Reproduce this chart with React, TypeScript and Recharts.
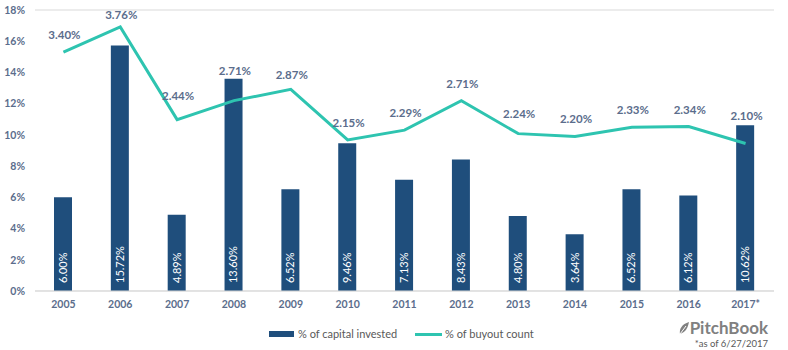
import React from 'react';
import { ComposedChart, Bar, Line, XAxis, YAxis, CartesianGrid, LabelList } from 'recharts';

const years = ['2005', '2006', '2007', '2008', '2009', '2010', '2011', '2012', '2013', '2014', '2015', '2016', '2017*'];
const capitalInvested = [6.0, 15.72, 4.89, 13.6, 6.52, 9.46, 7.13, 8.43, 4.8, 3.64, 6.52, 6.12, 10.62];
const buyoutCount = [3.4, 3.76, 2.44, 2.71, 2.87, 2.15, 2.29, 2.71, 2.24, 2.2, 2.33, 2.34, 2.1];
const leftTicks = [0, 2, 4, 6, 8, 10, 12, 14, 16, 18];

// extra vertical nudge for line labels (as placed in the original)
const labelNudge = [0, 5, -7, -13, 3, 0, 0, 0, -3, 0, 0, 0, -10];

const data = years.map((y, i) => ({ year: y, capital: capitalInvested[i], buyout: buyoutCount[i] }));

const FONT = 'Lato, "Open Sans", sans-serif';
const TEXT = '#5b6d8c';
const BAR = '#1f4e7c';
const LINE = '#2ec4b0';

const BarLabel = (props: any) => {
  const { x, y, width, height, value } = props;
  const cx = x + width / 2;
  const by = y + height - 8;
  return (
    <text
      x={cx}
      y={by}
      transform={`rotate(-90 ${cx} ${by})`}
      textAnchor="start"
      dy="0.36em"
      fill="#ffffff"
      fontSize={11}
      fontFamily={FONT}
    >
      {Number(value).toFixed(2)}%
    </text>
  );
};

const LineLabel = (props: any) => {
  const { x, y, value, index } = props;
  const ny = y - 13 + (labelNudge[index] || 0);
  return (
    <text x={x + 1} y={ny} textAnchor="middle" fill={TEXT} fontSize={11.5} fontWeight="bold" fontFamily={FONT}>
      {Number(value).toFixed(2)}%
    </text>
  );
};

export default function App() {
  return (
    <div style={{ position: 'absolute', left: 0, top: 0, width: 788, height: 350, background: '#fff', fontFamily: FONT }}>
      <ComposedChart width={788} height={350} data={data} margin={{ top: 10, right: 14, left: 0, bottom: 34 }}>
        <CartesianGrid vertical={false} stroke="#d9d9d9" />
        <XAxis
          dataKey="year"
          height={25}
          tickLine={false}
          axisLine={{ stroke: '#d9d9d9' }}
          tickMargin={4}
          tick={{ fill: TEXT, fontSize: 10.5, fontWeight: 'bold', fontFamily: FONT }}
          interval={0}
        />
        <YAxis
          yAxisId="left"
          width={35}
          domain={[0, 18]}
          ticks={leftTicks}
          tickFormatter={(v: number) => `${v}%`}
          tickLine={false}
          axisLine={false}
          tickMargin={4}
          tick={{ fill: TEXT, fontSize: 10.5, fontWeight: 'bold', fontFamily: FONT }}
        />
        <YAxis yAxisId="right" orientation="right" hide domain={[0, 4]} />
        <Bar yAxisId="left" dataKey="capital" fill={BAR} barSize={18} isAnimationActive={false}>
          <LabelList dataKey="capital" content={BarLabel} />
        </Bar>
        <Line
          yAxisId="right"
          dataKey="buyout"
          stroke={LINE}
          strokeWidth={3}
          dot={false}
          type="linear"
          isAnimationActive={false}
        >
          <LabelList dataKey="buyout" content={LineLabel} />
        </Line>
      </ComposedChart>
      <div style={{ position: 'absolute', left: 269, top: 331, width: 25, height: 6, background: BAR }} />
      <div style={{ position: 'absolute', left: 298, top: 326, fontSize: 11, color: '#595959', lineHeight: '16px', whiteSpace: 'nowrap' }}>
        % of capital invested
      </div>
      <div style={{ position: 'absolute', left: 415, top: 333, width: 27, height: 3, background: LINE }} />
      <div style={{ position: 'absolute', left: 445, top: 326, fontSize: 11, color: '#595959', lineHeight: '16px', whiteSpace: 'nowrap' }}>
        % of buyout count
      </div>
      <svg style={{ position: 'absolute', left: 678, top: 321 }} width={12} height={14} viewBox="0 0 12 14">
        <path d="M2 13 C1 8 4 3 11 1 C10 6 8 11 2 13 Z" fill="#808080" />
        <path d="M2 13 L8 5" stroke="#fff" strokeWidth={1} />
      </svg>
      <div style={{ position: 'absolute', right: 20, top: 317, fontSize: 17, fontWeight: 'bold', color: '#808080', lineHeight: '21px', whiteSpace: 'nowrap' }}>
        PitchBook
      </div>
      <div style={{ position: 'absolute', right: 20, top: 337, fontSize: 9.5, color: '#595959', lineHeight: '14px', whiteSpace: 'nowrap' }}>
        *as of 6/27/2017
      </div>
    </div>
  );
}
